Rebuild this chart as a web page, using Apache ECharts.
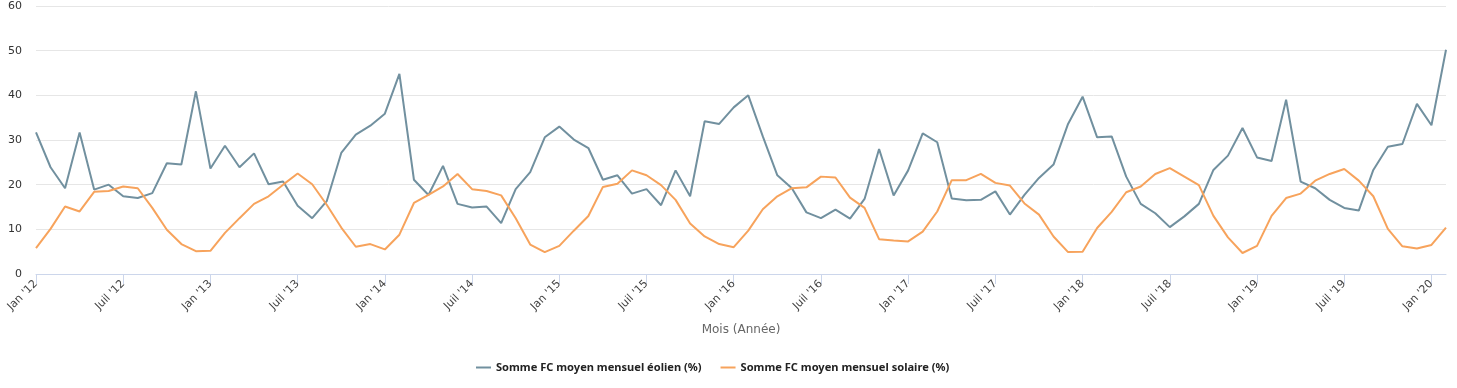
<!DOCTYPE html>
<html>
<head>
<meta charset="utf-8">
<script src="https://cdn.jsdelivr.net/npm/echarts@6/dist/echarts.min.js"></script>
<style>
html,body{margin:0;padding:0;background:#fff;}
#chart{width:1457px;height:388px;}
</style>
</head>
<body>
<div id="chart"></div>
<script>
// Month categories Jan 2012 .. Feb 2020
const monthNames = ["Jan","Fév","Mars","Avr","Mai","Juin","Juil","Août","Sept","Oct","Nov","Déc"];
const categories = [];
for (let y = 12; y <= 20; y++) {
  for (let m = 0; m < 12; m++) {
    if (y === 20 && m > 1) break;
    categories.push(monthNames[m] + " '" + y);
  }
}

const seriesNames = ["Somme FC moyen mensuel éolien (%)", "Somme FC moyen mensuel solaire (%)"];

const eolien = [
  31.7, 23.9, 19.2, 31.7, 18.9, 20.0, 17.4, 17.0, 18.1, 24.8, 24.5, 40.9,
  23.6, 28.7, 23.9, 27.0, 20.1, 20.7, 15.3, 12.5, 16.3, 27.1, 31.2, 33.2,
  35.9, 44.8, 21.1, 17.7, 24.2, 15.7, 14.9, 15.1, 11.4, 19.0, 22.8, 30.6,
  33.0, 30.1, 28.2, 21.1, 22.1, 18.0, 19.0, 15.4, 23.2, 17.4, 34.2, 33.6,
  37.3, 40.0, 30.8, 22.1, 19.2, 13.8, 12.5, 14.4, 12.4, 16.8, 28.0, 17.6,
  23.2, 31.5, 29.5, 16.9, 16.5, 16.6, 18.5, 13.3, 17.7, 21.5, 24.5, 33.6,
  39.7, 30.6, 30.8, 21.8, 15.7, 13.6, 10.5, 12.9, 15.7, 23.3, 26.5, 32.7,
  26.1, 25.3, 39.0, 20.7, 19.2, 16.6, 14.8, 14.2, 23.3, 28.5, 29.1, 38.1,
  33.3, 50.2
];

const solaire = [
  5.8, 10.1, 15.1, 14.0, 18.4, 18.6, 19.6, 19.2, 14.8, 9.9, 6.7, 5.1,
  5.2, 9.2, 12.5, 15.7, 17.4, 20.0, 22.5, 20.1, 15.5, 10.4, 6.1, 6.7,
  5.5, 8.8, 15.9, 17.7, 19.6, 22.4, 19.0, 18.6, 17.6, 12.5, 6.6, 4.9,
  6.3, 9.7, 13.0, 19.5, 20.2, 23.2, 22.1, 19.9, 16.6, 11.3, 8.4, 6.7,
  6.0, 9.7, 14.5, 17.4, 19.2, 19.4, 21.8, 21.6, 17.1, 14.8, 7.8, 7.5,
  7.3, 9.5, 14.0, 21.0, 21.0, 22.4, 20.4, 19.8, 15.8, 13.3, 8.4, 4.9,
  5.0, 10.3, 13.9, 18.3, 19.6, 22.4, 23.7, 21.8, 19.9, 13.0, 8.2, 4.7,
  6.3, 13.0, 17.0, 18.0, 20.9, 22.4, 23.5, 20.9, 17.4, 10.1, 6.2, 5.7,
  6.5, 10.4
];

const yTicks = { min: 0, max: 60, interval: 10 };
const xTitle = "Mois (Année)";

const chart = echarts.init(document.getElementById('chart'), null, {renderer: 'canvas'});
const labelEvery = 6;
chart.setOption({
  animation: false,
  color: ['#71909f', '#f7a35c'],
  textStyle: { fontFamily: 'DejaVu Sans' },
  grid: { left: 36, right: 11, top: 6, height: 268, containLabel: false },
  legend: {
    data: seriesNames,
    top: 357,
    left: 471,
    icon: 'rect',
    itemWidth: 15,
    itemHeight: 2,
    itemGap: 19,
    textStyle: { fontFamily: 'Noto Sans', fontWeight: 'bold', fontSize: 11.1, color: '#222222' }
  },
  xAxis: {
    type: 'category',
    data: categories,
    boundaryGap: false,
    name: xTitle,
    nameLocation: 'middle',
    nameGap: 50,
    nameTextStyle: { color: '#666666', fontSize: 12, fontFamily: 'DejaVu Sans' },
    axisLine: { lineStyle: { color: '#ccd6eb', width: 1 } },
    axisTick: { show: true, length: 10, lineStyle: { color: '#ccd6eb' }, interval: (i) => i % labelEvery === 0 },
    axisLabel: {
      interval: (i) => i % labelEvery === 0,
      rotate: 45,
      color: '#444444',
      fontSize: 11,
      margin: 8
    },
    splitLine: { show: false }
  },
  yAxis: {
    type: 'value',
    min: yTicks.min,
    max: yTicks.max,
    interval: yTicks.interval,
    axisLine: { show: false },
    axisTick: { show: false },
    axisLabel: { color: '#333333', fontSize: 11, margin: 14 },
    splitLine: { lineStyle: { color: '#e6e6e6', width: 1 } }
  },
  series: [
    { name: seriesNames[0], type: 'line', data: eolien, showSymbol: false, symbol: 'none', lineStyle: { width: 2 } },
    { name: seriesNames[1], type: 'line', data: solaire, showSymbol: false, symbol: 'none', lineStyle: { width: 2 } }
  ]
});
</script>
</body>
</html>
